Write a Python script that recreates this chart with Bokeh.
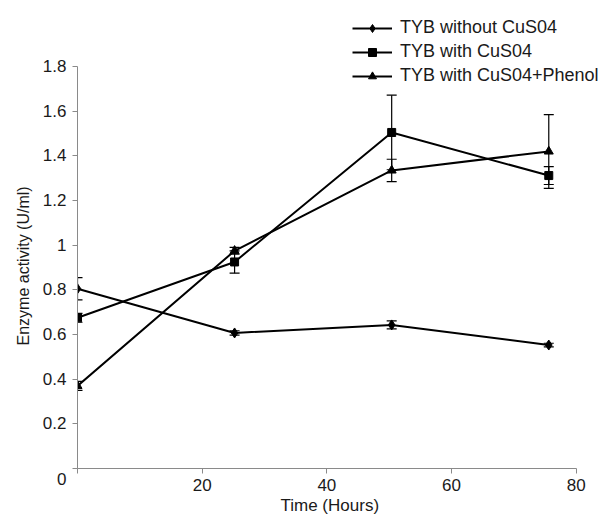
from bokeh.plotting import figure
from bokeh.models import (ColumnDataSource, Whisker, TeeHead, Legend, LegendItem,
                          FixedTicker, CustomJSTickFormatter, Range1d, Title)
from bokeh.embed import file_html
from bokeh.resources import INLINE

# ---- data ----
time_h = [0, 25.2, 50.4, 75.6]
without_cuso4 = [0.805, 0.607, 0.643, 0.553]
without_err = [0.050, 0.010, 0.018, 0.008]
with_cuso4 = [0.675, 0.925, 1.505, 1.312]
with_err = [0.020, 0.050, 0.167, 0.040]
with_phenol = [0.370, 0.975, 1.335, 1.420]
phenol_err = [0.020, 0.015, 0.050, 0.165]
series_names = ["TYB without CuS04", "TYB with CuS04", "TYB with CuS04+Phenol"]

x_ticks = [0, 20, 40, 60, 80]
x_tick_labels = ["", "20", "40", "60", "80"]
y_ticks = [0, 0.2, 0.4, 0.6, 0.8, 1.0, 1.2, 1.4, 1.6, 1.8]
y_tick_labels = ["\n0", "0.2", "0.4", "0.6", "0.8", "1", "1.2", "1.4", "1.6", "1.8"]
x_title = "Time (Hours)"
y_title = "Enzyme activity (U/ml)"

FONT = "Liberation Sans"
AXIS_COLOR = "#8a8a8a"
TXT = "#1a1a1a"

p = figure(width=609, height=523, output_backend="svg", toolbar_location=None,
           x_range=Range1d(0, 84.7), y_range=Range1d(0, 2.096),
           min_border_left=77, min_border_right=4, min_border_top=0, min_border_bottom=55)
p.outline_line_color = None
p.grid.visible = False
p.background_fill_color = "white"

fmt_js = """
let best = 0; let d = Infinity;
for (let i = 0; i < tvals.length; i++) {
  const dd = Math.abs(tvals[i] - tick);
  if (dd < d) { d = dd; best = i; }
}
return tlabels[best];
"""

xa = p.xaxis[0]
xa.ticker = FixedTicker(ticks=x_ticks)
xa.formatter = CustomJSTickFormatter(args=dict(tvals=x_ticks, tlabels=x_tick_labels), code=fmt_js)
xa.bounds = (0, 80)
ya = p.yaxis[0]
ya.ticker = FixedTicker(ticks=y_ticks)
ya.formatter = CustomJSTickFormatter(args=dict(tvals=y_ticks, tlabels=y_tick_labels), code=fmt_js)
ya.bounds = (0, 1.8)

for ax in (xa, ya):
    ax.axis_line_color = AXIS_COLOR
    ax.major_tick_line_color = AXIS_COLOR
    ax.minor_tick_line_color = None
    ax.major_tick_out = 5
    ax.major_tick_in = 0
    ax.major_label_text_font = FONT
    ax.major_label_text_font_size = "17px"
    ax.major_label_text_color = TXT

xa.major_label_standoff = 5
ya.major_label_standoff = 6

p.add_layout(Title(text=x_title, align="left", offset=203, standoff=0,
                   text_font=FONT, text_font_size="17px", text_font_style="normal",
                   text_color=TXT), "below")
p.add_layout(Title(text=y_title, align="left", offset=123, standoff=16,
                   text_font=FONT, text_font_size="16px", text_font_style="normal",
                   text_color=TXT), "left")

series = [
    (without_cuso4, without_err, "diamond", 10),
    (with_cuso4, with_err, "square", 8),
    (with_phenol, phenol_err, "triangle", 9),
]

items = []
for (vals, errs, marker, msize), name in zip(series, series_names):
    src = ColumnDataSource(dict(
        x=time_h, y=vals,
        upper=[v + e for v, e in zip(vals, errs)],
        lower=[v - e for v, e in zip(vals, errs)],
    ))
    w = Whisker(source=src, base="x", upper="upper", lower="lower",
                line_color="black", line_width=1.2,
                upper_head=TeeHead(size=10, line_color="black", line_width=1.2),
                lower_head=TeeHead(size=10, line_color="black", line_width=1.2))
    p.add_layout(w)
    lr = p.line("x", "y", source=src, line_color="black", line_width=2)
    sr = p.scatter("x", "y", source=src, marker=marker, size=msize,
                   fill_color="black", line_color="black")
    items.append(LegendItem(label=name, renderers=[lr, sr]))

legend = Legend(items=items, location=(275, 382), padding=0, margin=0,
                glyph_width=40, glyph_height=20, label_height=20, spacing=3,
                label_standoff=8, label_text_font=FONT, label_text_font_size="18px",
                label_text_color=TXT,
                background_fill_alpha=0, border_line_alpha=0)
p.add_layout(legend, "center")

open("out.html", "w").write(file_html(p, INLINE))
